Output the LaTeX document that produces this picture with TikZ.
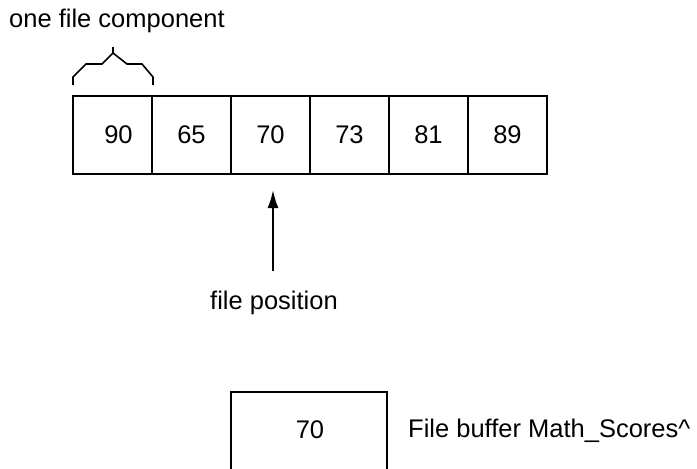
\documentclass[tikz,border=0pt]{standalone}
\usepackage{fontspec}
\setmainfont{Liberation Sans}
\usetikzlibrary{arrows.meta}
\begin{document}
\begin{tikzpicture}[x=1pt,y=-1pt,
  txt/.style={font=\fontsize{25.5}{30}\selectfont},
  cellbox/.style={txt,draw=black,line width=2pt,minimum width=79pt,minimum height=78pt,inner sep=0pt,anchor=north west},
  lbl/.style={txt,anchor=base west,inner sep=0pt},
  bracestyle/.style={draw=black,line width=1.6pt},
  ptr/.style={draw=black,line width=2pt,-{Latex[length=18pt,width=11pt]}}]
\useasboundingbox (0,0) rectangle (697,469);
\fill[white] (0,0) rectangle (697,469);
% array cells
\node[cellbox] (c1) at (72,95) {\hspace*{12pt}90};
\node[cellbox] (c2) at (151,95) {65};
\node[cellbox] (c3) at (230,95) {70};
\node[cellbox] (c4) at (309,95) {73};
\node[cellbox] (c5) at (388,95) {81};
\node[cellbox] (c6) at (467,95) {89};
% label and brace
\node[lbl] (comp) at (9,27) {one file component};
\coordinate (b1) at (73,85);
\coordinate (b2) at (73,77);
\coordinate (b3) at (86,64);
\coordinate (b4) at (102,64);
\coordinate (b5) at (113,53);
\coordinate (b6) at (113,47);
\coordinate (b7) at (127,64);
\coordinate (b8) at (142,64);
\coordinate (b9) at (153,77);
\coordinate (b10) at (153,85);
\draw[bracestyle] (b1) -- (b2) -- (b3) -- (b4) -- (b5) -- (b7) -- (b8) -- (b9) -- (b10);
\draw[bracestyle] (b5) -- (b6);
% file position arrow
\coordinate (atail) at (273,271);
\coordinate (ahead) at (273,190);
\draw[ptr] (atail) -- (ahead);
\node[lbl] (fpos) at (210,309) {file position};
% buffer
\coordinate (k1) at (231,469);
\coordinate (k2) at (231,392);
\coordinate (k3) at (387,392);
\coordinate (k4) at (387,469);
\draw[black,line width=2pt] (k1) -- (k2) -- (k3) -- (k4);
\node[txt,inner sep=0pt] (bufval) at (310,430) {70};
\node[lbl] (buflbl) at (408,437) {File buffer Math\_Scores\^{}};
\end{tikzpicture}
\end{document}
